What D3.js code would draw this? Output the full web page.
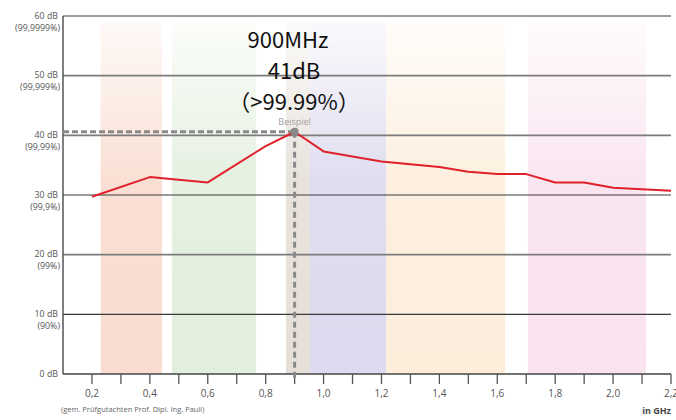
<!DOCTYPE html>
<html>
<head>
<meta charset="utf-8">
<script src="https://cdn.jsdelivr.net/npm/d3@7"></script>
<style>
body { margin: 0; background: #fff; }
svg { display: block; }
</style>
</head>
<body>
<div id="chart"></div>
<script>
var width = 676
var height = 420

var margin = {
    top: 16,
    bottom: 46,
    left: 63,
    right: 5
}

// frequency in GHz / attenuation in dB
var freqs = [0.2, 0.4, 0.6, 0.8, 0.9, 1.0, 1.2, 1.4, 1.5, 1.6, 1.7, 1.8, 1.9, 2.0, 2.2]
var dbValues = [29.7, 33.0, 32.1, 38.2, 40.6, 37.3, 35.6, 34.7, 33.9, 33.5, 33.5, 32.1, 32.1, 31.2, 30.7]

var dbTicks = [0, 10, 20, 30, 40, 50, 60]
var pctLabels = ["", "(90%)", "(99%)", "(99,9%)", "(99,99%)", "(99,999%)", "(99,9999%)"]
var xLabelTicks = [0.2, 0.4, 0.6, 0.8, 1.0, 1.2, 1.4, 1.6, 1.8, 2.0, 2.2]
var xMinorTicks = [0.2, 0.3, 0.4, 0.5, 0.6, 0.7, 0.8, 0.9, 1.0, 1.1, 1.2, 1.3, 1.4, 1.5, 1.6, 1.7, 1.8, 1.9, 2.0, 2.1, 2.2]

// background bands (GHz)
var bandStart = [0.23, 0.476, 0.87, 0.953, 1.216, 1.706]
var bandEnd = [0.442, 0.767, 0.953, 1.216, 1.627, 2.114]
var bandColors = ["#f9dccf", "#e3efdd", "#e6dfd8", "#dcdaee", "#fdeedc", "#f9e3ef"]

var example = { freq: 0.9, db: 40.6 }
var noteLines = ["900MHz", "41dB", "（>99.99%）"]

var labelFont = "'Open Sans', 'DejaVu Sans', sans-serif"

var svg = d3.select("#chart").append("svg")
    .attr("width", width)
    .attr("height", height)

var xScale = d3.scaleLinear().domain([0.1, 2.2]).range([margin.left, width - margin.right])
var yScale = d3.scaleLinear().domain([0, 60]).range([height - margin.bottom, margin.top])

// gradients for the bands (faint at top)
var defs = svg.append("defs")
bandColors.forEach(function(c, i) {
    var g = defs.append("linearGradient")
        .attr("id", "band" + i)
        .attr("x1", 0).attr("y1", 0).attr("x2", 0).attr("y2", 1)
    g.append("stop").attr("offset", "0%").attr("stop-color", c).attr("stop-opacity", 0.15)
    g.append("stop").attr("offset", "45%").attr("stop-color", c).attr("stop-opacity", 0.9)
    g.append("stop").attr("offset", "100%").attr("stop-color", c).attr("stop-opacity", 1)
})

svg.selectAll("rect.band")
    .data(bandStart)
    .enter()
    .append("rect")
    .attr("class", "band")
    .attr("x", function(d) { return xScale(d) })
    .attr("y", yScale(59))
    .attr("width", function(d, i) { return xScale(bandEnd[i]) - xScale(d) })
    .attr("height", function() { return yScale(0) - yScale(59) })
    .attr("fill", function(d, i) { return "url(#band" + i + ")" })

// grid lines
svg.selectAll("line.grid")
    .data(dbTicks.slice(1))
    .enter()
    .append("line")
    .attr("class", "grid")
    .attr("x1", xScale.range()[0])
    .attr("x2", xScale.range()[1])
    .attr("y1", function(d) { return yScale(d) })
    .attr("y2", function(d) { return yScale(d) })
    .attr("stroke", function(d) { return (d == 30 || d == 10) ? "#3a3a3a" : "#7c7c7c" })
    .attr("stroke-width", function(d) { return (d == 30 || d == 10) ? 1.2 : 1.6 })

// y labels
var yLab = svg.append("g")
    .attr("font-family", labelFont)
    .attr("font-size", 8.8)
    .attr("fill", "#555")
    .attr("text-anchor", "end")
yLab.selectAll("text.db")
    .data(dbTicks)
    .enter()
    .append("text")
    .attr("x", 58)
    .attr("y", function(d) { return yScale(d) + 2.5 })
    .text(function(d) { return d + " dB" })
yLab.selectAll("text.pct")
    .data(dbTicks)
    .enter()
    .append("text")
    .attr("x", 60)
    .attr("y", function(d) { return yScale(d) + 14.5 })
    .text(function(d, i) { return pctLabels[i] })

// axes
svg.append("line")
    .attr("x1", margin.left).attr("x2", margin.left)
    .attr("y1", yScale(60)).attr("y2", yScale(0))
    .attr("stroke", "#555").attr("stroke-width", 1.5)
svg.append("line")
    .attr("x1", margin.left).attr("x2", xScale.range()[1])
    .attr("y1", yScale(0)).attr("y2", yScale(0))
    .attr("stroke", "#444").attr("stroke-width", 1.5)

svg.selectAll("line.xtick")
    .data(xMinorTicks)
    .enter()
    .append("line")
    .attr("class", "xtick")
    .attr("x1", function(d) { return xScale(d) })
    .attr("x2", function(d) { return xScale(d) })
    .attr("y1", yScale(0))
    .attr("y2", yScale(0) + 10)
    .attr("stroke", "#555")
    .attr("stroke-width", 1.3)

svg.selectAll("text.xlab")
    .data(xLabelTicks)
    .enter()
    .append("text")
    .attr("class", "xlab")
    .attr("x", function(d) { return xScale(d) })
    .attr("y", yScale(0) + 23)
    .attr("text-anchor", "middle")
    .attr("font-family", labelFont)
    .attr("font-size", 10)
    .attr("fill", "#555")
    .text(function(d) { return d3.format(".1f")(d).replace(".", ",") })

// example guide lines
svg.append("line")
    .attr("x1", margin.left).attr("x2", xScale(example.freq))
    .attr("y1", yScale(example.db)).attr("y2", yScale(example.db))
    .attr("stroke", "#8a8a8a").attr("stroke-width", 3)
    .attr("stroke-dasharray", "6,3")
svg.append("line")
    .attr("x1", xScale(example.freq)).attr("x2", xScale(example.freq))
    .attr("y1", yScale(example.db)).attr("y2", yScale(0) + 8)
    .attr("stroke", "#8a8a8a").attr("stroke-width", 3)
    .attr("stroke-dasharray", "6,4")

// data line
var line = d3.line()
    .x(function(d, i) { return xScale(freqs[i]) })
    .y(function(d) { return yScale(d) })
svg.append("path")
    .datum(dbValues)
    .attr("d", line)
    .attr("fill", "none")
    .attr("stroke", "#e0212b")
    .attr("stroke-width", 2)
    .attr("stroke-linejoin", "round")

svg.append("circle")
    .attr("cx", xScale(example.freq))
    .attr("cy", yScale(example.db))
    .attr("r", 4)
    .attr("fill", "#8a8a8a")

svg.append("text")
    .attr("x", xScale(example.freq))
    .attr("y", yScale(example.db) - 7)
    .attr("text-anchor", "middle")
    .attr("font-family", labelFont)
    .attr("font-size", 9)
    .attr("fill", "#a0a0a0")
    .text("Beispiel")

// annotation
svg.selectAll("text.note")
    .data(noteLines)
    .enter()
    .append("text")
    .attr("class", "note")
    .attr("x", function(d, i) { return i == 0 ? 288 : 294 })
    .attr("y", function(d, i) { return 48 + i * 31 })
    .attr("text-anchor", "middle")
    .attr("font-family", "'Noto Sans CJK JP', sans-serif")
    .attr("font-size", 22)
    .attr("fill", "#111")
    .text(function(d) { return d })

// footer
svg.append("text")
    .attr("x", 61).attr("y", 412)
    .attr("font-family", labelFont)
    .attr("font-size", 7.5)
    .attr("fill", "#666")
    .text("(gem. Prüfgutachten Prof. Dipl. Ing. Pauli)")
svg.append("text")
    .attr("x", 671).attr("y", 414)
    .attr("text-anchor", "end")
    .attr("font-family", labelFont)
    .attr("font-size", 9)
    .attr("font-weight", "bold")
    .attr("fill", "#444")
    .text("in GHz")
</script>
</body>
</html>
